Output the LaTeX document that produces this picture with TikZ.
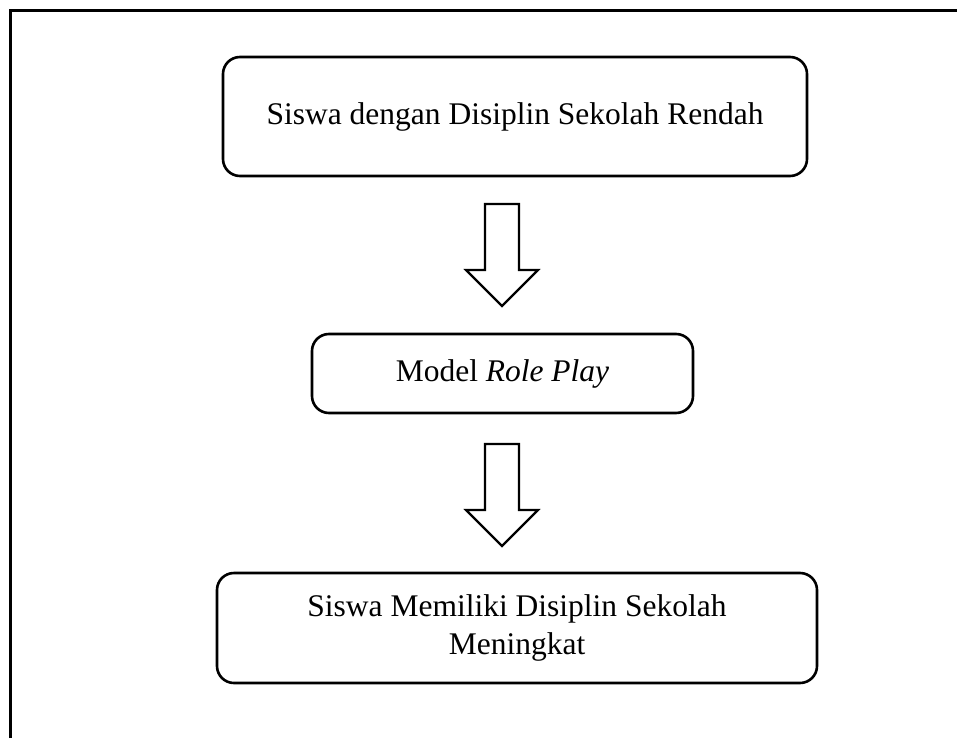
\documentclass[tikz,border=0pt]{standalone}
\usepackage{fontspec}
\setmainfont{Liberation Serif}
\begin{document}
\begin{tikzpicture}[x=1pt,y=-1pt,
  flowbox/.style={draw=black,line width=2.6pt,rounded corners=17pt,inner sep=0pt,
    font=\fontsize{31.5}{38}\selectfont,align=center},
  blockarrow/.style={draw=black,line width=2.2pt,fill=white,line join=miter},
  frameline/.style={draw=black,line width=3pt}]
\useasboundingbox (0,0) rectangle (957,738);
\draw[frameline] (10.5,738) -- (10.5,11) -- (957,11);
\node[flowbox,minimum width=584pt,minimum height=119pt] (b1) at (515,116.5) {Siswa dengan Disiplin Sekolah Rendah};
\node[flowbox,minimum width=381pt,minimum height=79pt] (b2) at (502.5,373.5) {Model \textit{Role Play}};
\node[flowbox,minimum width=600pt,minimum height=110pt] (b3) at (517,628) {Siswa Memiliki Disiplin Sekolah\\Meningkat};
\coordinate (a1) at (502,204);
\coordinate (a2) at (502,444);
\draw[blockarrow] (a1) ++(-17,0) -- ++(34,0) -- ++(0,66) -- ++(19,0) -- ++(-36,36) -- ++(-36,-36) -- ++(19,0) -- cycle;
\draw[blockarrow] (a2) ++(-17,0) -- ++(34,0) -- ++(0,66) -- ++(19,0) -- ++(-36,36) -- ++(-36,-36) -- ++(19,0) -- cycle;
\end{tikzpicture}
\end{document}
